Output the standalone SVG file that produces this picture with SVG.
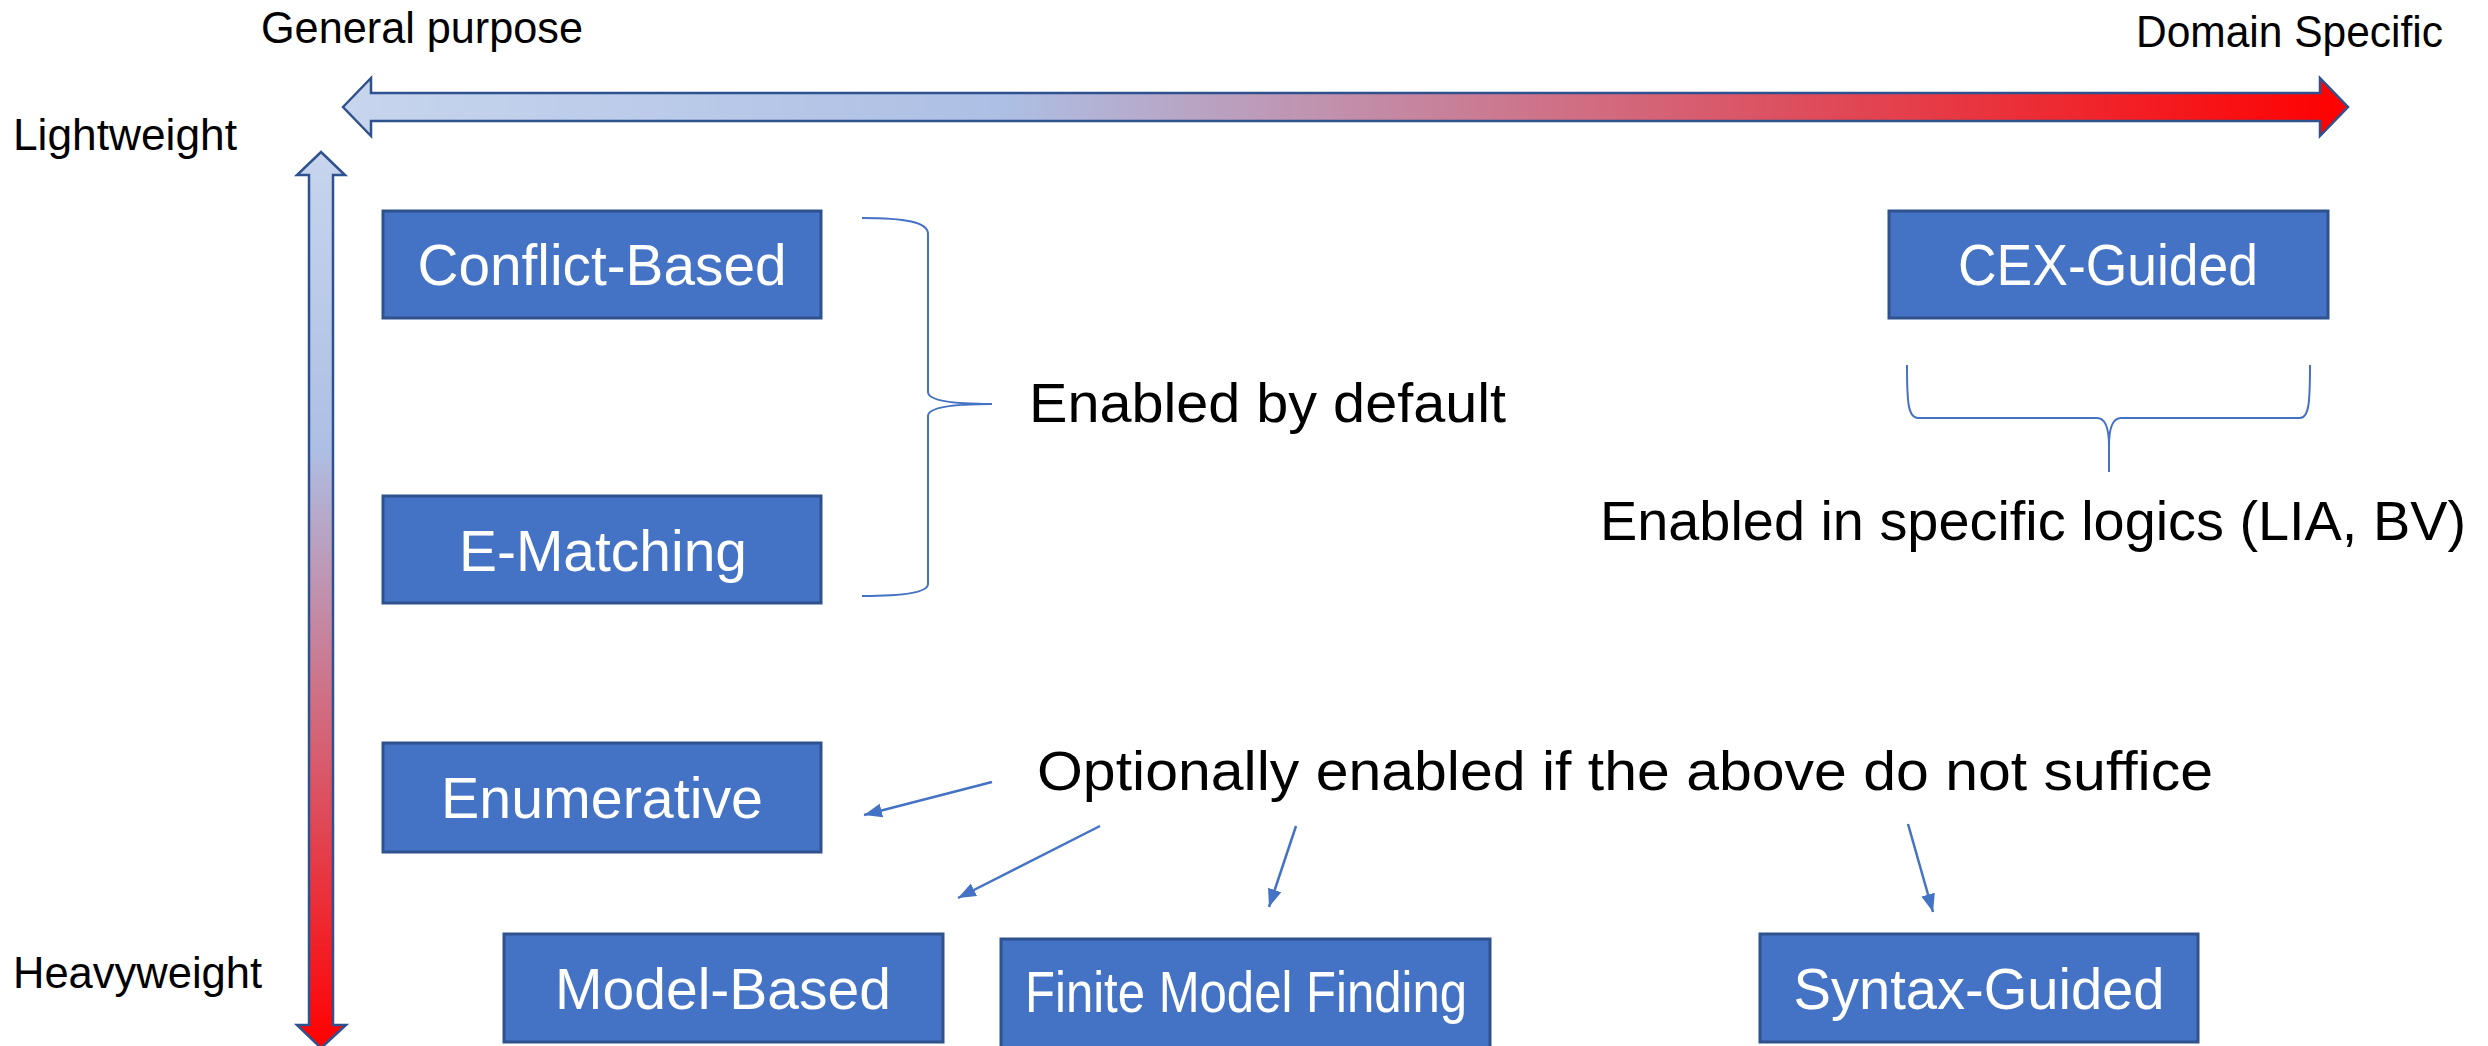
<svg xmlns="http://www.w3.org/2000/svg" width="2488" height="1046" viewBox="0 0 2488 1046">
<defs>
<linearGradient id="gh" gradientUnits="userSpaceOnUse" x1="343" y1="0" x2="2348" y2="0">
<stop offset="0" stop-color="#C7D5ED"/><stop offset="0.33" stop-color="#ADBFE4"/><stop offset="1" stop-color="#FF0000"/>
</linearGradient>
<linearGradient id="gv" gradientUnits="userSpaceOnUse" x1="0" y1="152" x2="0" y2="1048">
<stop offset="0" stop-color="#C7D5ED"/><stop offset="0.33" stop-color="#ADBFE4"/><stop offset="1" stop-color="#FF0000"/>
</linearGradient>
<marker id="ah" markerUnits="userSpaceOnUse" markerWidth="20" markerHeight="16" viewBox="0 0 20 16" refX="18" refY="8" orient="auto">
<path d="M0,1 L18,8 L0,15 Z" fill="#4472C4"/>
</marker>
</defs>
<style>
.box{fill:#4472C4;stroke:#2F528F;stroke-width:3}
.bt{fill:#FFFFFF;font-family:"Liberation Sans",Arial,sans-serif;font-size:57px;text-anchor:middle}
.lbl{fill:#000000;font-family:"Liberation Sans",Arial,sans-serif}
.ax{stroke:#2F528F;stroke-width:2.5}
.brace{fill:none;stroke:#4472C4;stroke-width:2}
.conn line{stroke:#4472C4;stroke-width:2.5}
</style>

<g id="axes">
<polygon class="ax" fill="url(#gh)" points="343,107 371,78 371,93 2320,93 2320,78 2348,107 2320,136 2320,121 371,121 371,136"/>
<polygon class="ax" fill="url(#gv)" points="321,152 345,175 333,175 333,1025 346,1025 321,1048 297,1025 309,1025 309,175 297,175"/>
</g>

<g id="axis-labels">
<text class="lbl" x="261" y="43" font-size="44" textLength="322" lengthAdjust="spacingAndGlyphs">General purpose</text>
<text class="lbl" x="2136" y="47" font-size="44" textLength="307" lengthAdjust="spacingAndGlyphs">Domain Specific</text>
<text class="lbl" x="13" y="150" font-size="44" textLength="224" lengthAdjust="spacingAndGlyphs">Lightweight</text>
<text class="lbl" x="13" y="988" font-size="44" textLength="249" lengthAdjust="spacingAndGlyphs">Heavyweight</text>
</g>

<g id="conflict-based">
<rect class="box" x="383" y="211" width="438" height="107"/>
<text class="bt" x="602" y="285" textLength="369" lengthAdjust="spacingAndGlyphs">Conflict-Based</text>
</g>
<g id="e-matching">
<rect class="box" x="383" y="496" width="438" height="107"/>
<text class="bt" x="603" y="571" textLength="288" lengthAdjust="spacingAndGlyphs">E-Matching</text>
</g>
<g id="cex-guided">
<rect class="box" x="1889" y="211" width="439" height="107"/>
<text class="bt" x="2108" y="285" textLength="300" lengthAdjust="spacingAndGlyphs">CEX-Guided</text>
</g>
<g id="enumerative">
<rect class="box" x="383" y="743" width="438" height="109"/>
<text class="bt" x="602" y="818" textLength="322" lengthAdjust="spacingAndGlyphs">Enumerative</text>
</g>
<g id="model-based">
<rect class="box" x="504" y="934" width="439" height="108"/>
<text class="bt" x="723" y="1009" textLength="336" lengthAdjust="spacingAndGlyphs">Model-Based</text>
</g>
<g id="finite-model-finding">
<rect class="box" x="1001" y="939" width="489" height="112"/>
<text class="bt" x="1246" y="1012" font-size="48" textLength="442" lengthAdjust="spacingAndGlyphs">Finite Model Finding</text>
</g>
<g id="syntax-guided">
<rect class="box" x="1760" y="934" width="438" height="108"/>
<text class="bt" x="1979" y="1009" textLength="371" lengthAdjust="spacingAndGlyphs">Syntax-Guided</text>
</g>

<g id="enabled-by-default">
<path class="brace" d="M862,218 C905,218 928,222 928,234 L928,392 C928,400 948,404 992,404 C948,404 928,408 928,416 L928,584 C928,592 905,596 862,596"/>
<text class="lbl" x="1029" y="422" font-size="56" textLength="477" lengthAdjust="spacingAndGlyphs">Enabled by default</text>
</g>

<g id="enabled-specific">
<path class="brace" d="M1907,365 C1907,402 1908,418 1918,418 L2097,418 C2105,418 2109,426 2109,446 C2109,426 2113,418 2121,418 L2300,418 C2309,418 2310,402 2310,365 M2109,446 L2109,472"/>
<text class="lbl" x="1600" y="540" font-size="56" textLength="866" lengthAdjust="spacingAndGlyphs">Enabled in specific logics (LIA, BV)</text>
</g>

<g id="optionally-enabled">
<text class="lbl" x="1037" y="790" font-size="56" textLength="1176" lengthAdjust="spacingAndGlyphs">Optionally enabled if the above do not suffice</text>
</g>

<g id="connectors" class="conn">
<line x1="992" y1="782" x2="864" y2="815" marker-end="url(#ah)"/>
<line x1="1100" y1="826" x2="958" y2="898" marker-end="url(#ah)"/>
<line x1="1296" y1="826" x2="1269" y2="907" marker-end="url(#ah)"/>
<line x1="1908" y1="824" x2="1933" y2="912" marker-end="url(#ah)"/>
</g>
</svg>
